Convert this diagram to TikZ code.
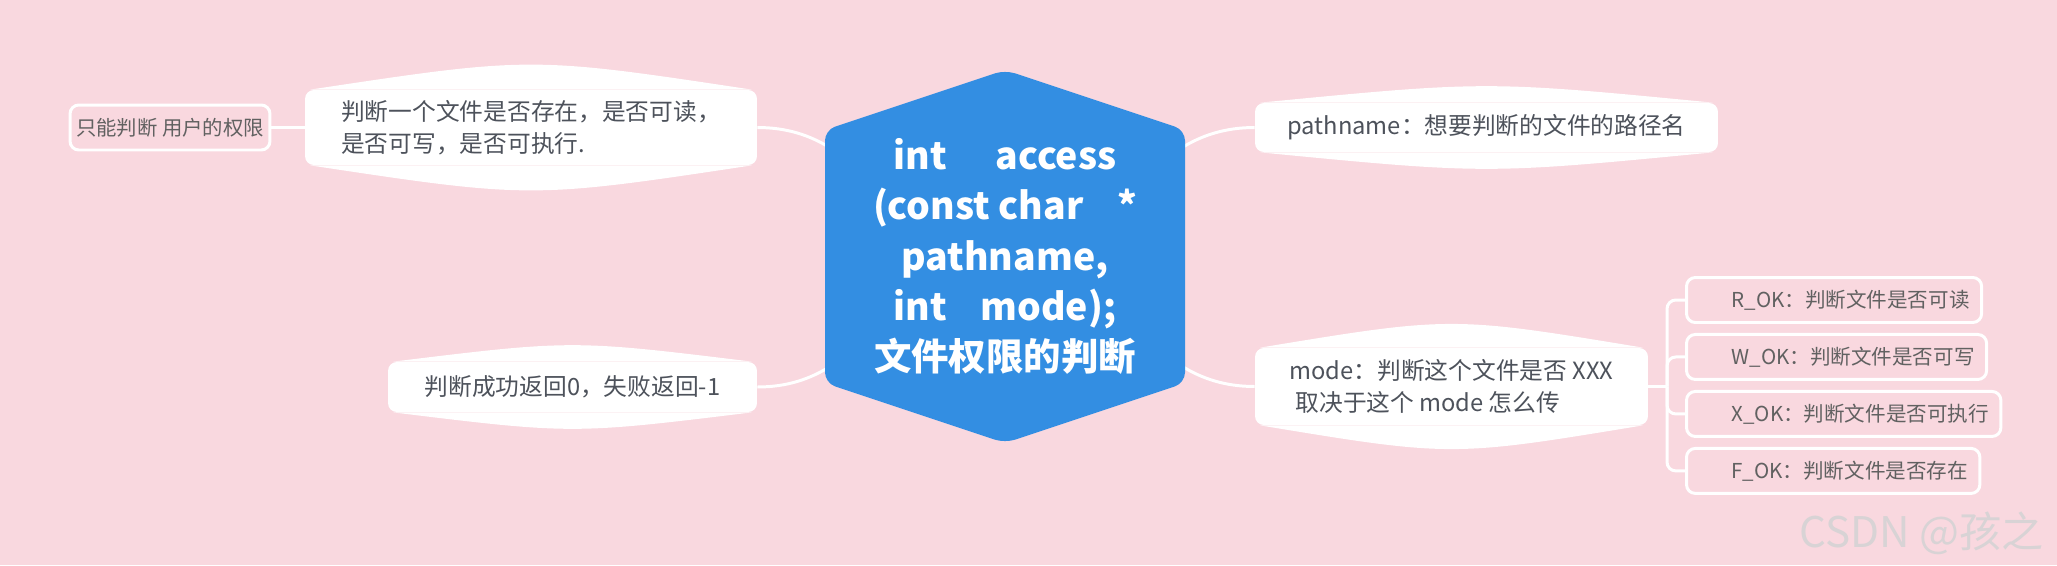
\documentclass[tikz,border=0pt]{standalone}
\usepackage{fontspec}
\setmainfont{Noto Sans CJK SC}
\usepackage{xcolor}
\usepackage{tikz}
\usetikzlibrary{positioning, calc, backgrounds}

\definecolor{bgpink}{HTML}{F9D8DF}
\definecolor{rootblue}{HTML}{338EE2}
\definecolor{txtdark}{HTML}{4D525B}
\definecolor{txtgray}{HTML}{616161}
\definecolor{markgray}{HTML}{D8D3D5}

% white lens on top and bottom of a topic box
\newcommand{\bulge}[2]{%
  \fill[white] ([xshift=3pt]#1.north west) .. controls ($(#1.north)+(0pt,#2)$) .. ([xshift=-3pt]#1.north east) -- cycle;
  \fill[white] ([xshift=3pt]#1.south west) .. controls ($(#1.south)+(0pt,-#2)$) .. ([xshift=-3pt]#1.south east) -- cycle;}

\begin{document}
\begin{tikzpicture}[
        x=0.02cm, y=-0.02cm,
        root/.style={align=center, text=white, font=\bfseries\fontsize{21.3pt}{28.5pt}\selectfont},
        topic/.style={rectangle, fill=white, rounded corners=5pt, inner xsep=0pt, inner ysep=0pt, align=left, text=txtdark, font=\fontsize{13.5pt}{18.5pt}\selectfont},
        leaf/.style={rectangle, draw=white, line width=1.7pt, rounded corners=5pt, minimum height=0.9cm, inner xsep=0.24cm, text=txtgray, font=\fontsize{11.7pt}{14pt}\selectfont},
        conn/.style={draw=white, line width=1.7pt}
    ]
        % Central topic
        \node[root] (root) at (1005,256.5) {int\hspace{1.3em}access\\(const char\hspace{0.9em}*\\pathname,\\int\hspace{0.9em}mode);\\文件权限的判断};

        % Left side
        \node[topic, minimum width=9.04cm, minimum height=1.5cm] (exist) at (531,127.5) {判断一个文件是否存在，是否可读，\\是否可写，是否可执行.};
        \node[leaf, minimum width=4cm, minimum height=0.9cm, inner xsep=0pt, font=\fontsize{11.6pt}{14pt}\selectfont] (perm) at (170,127.5) {只能判断 用户的权限};
        \node[topic, minimum width=7.38cm, minimum height=1cm] (ret) at (572.5,387) {判断成功返回0，失败返回-1};

        % Right side
        \node[topic, minimum width=9.26cm, minimum height=0.98cm] (path) at (1486.5,127.5) {pathname：想要判断的文件的路径名};
        \node[topic, minimum width=7.86cm, minimum height=1.54cm] (mode) at (1451.5,386.5) {mode：判断这个文件是否 XXX\\\hspace*{0.25em}取决于这个 mode 怎么传};

        % Mode values
        \node[leaf, anchor=west] (rok) at (1685,300) {\hspace*{0.66cm}R\_OK：判断文件是否可读};
        \node[leaf, below=0.18cm of rok.south west, anchor=north west] (wok) {\hspace*{0.66cm}W\_OK：判断文件是否可写};
        \node[leaf, below=0.18cm of wok.south west, anchor=north west] (xok) {\hspace*{0.66cm}X\_OK：判断文件是否可执行};
        \node[leaf, below=0.18cm of xok.south west, anchor=north west] (fok) {\hspace*{0.66cm}F\_OK：判断文件是否存在};

        \node[text=markgray, font=\fontsize{24pt}{28pt}\selectfont, anchor=east] (mark) at (2050,533) {CSDN @孩之};

        \draw[conn] (exist.west) -- (perm.east);
        \coordinate (fork) at (1667,386.5);
        \draw[conn] (mode.east) -- (fork);
        \foreach \k in {rok, wok, xok, fok}
            \draw[conn, rounded corners=5pt] (fork) |- (\k.west);

        \begin{scope}[on background layer]
            \fill[bgpink] (0,0) rectangle (2057,565);
            % Curves from the central topic
            \draw[conn] (exist.east) .. controls +(120,0) and +(-120,0) .. (root.center);
            \draw[conn] (ret.east) .. controls +(120,0) and +(-120,0) .. (root.center);
            \draw[conn] (path.west) .. controls +(-120,0) and +(120,0) .. (root.center);
            \draw[conn] (mode.west) .. controls +(-120,0) and +(120,0) .. (root.center);
            \fill[rootblue, rounded corners=6pt] ($(root.center)+(0,-186.5)$) -- ++(180,60) -- ++(0,253) -- ++(-180,60) -- ++(-180,-60) -- ++(0,-253) -- cycle;
            \bulge{exist}{19pt}
            \bulge{ret}{12.5pt}
            \bulge{path}{12.5pt}
            \bulge{mode}{18pt}
        \end{scope}
    \end{tikzpicture}
\end{document}
